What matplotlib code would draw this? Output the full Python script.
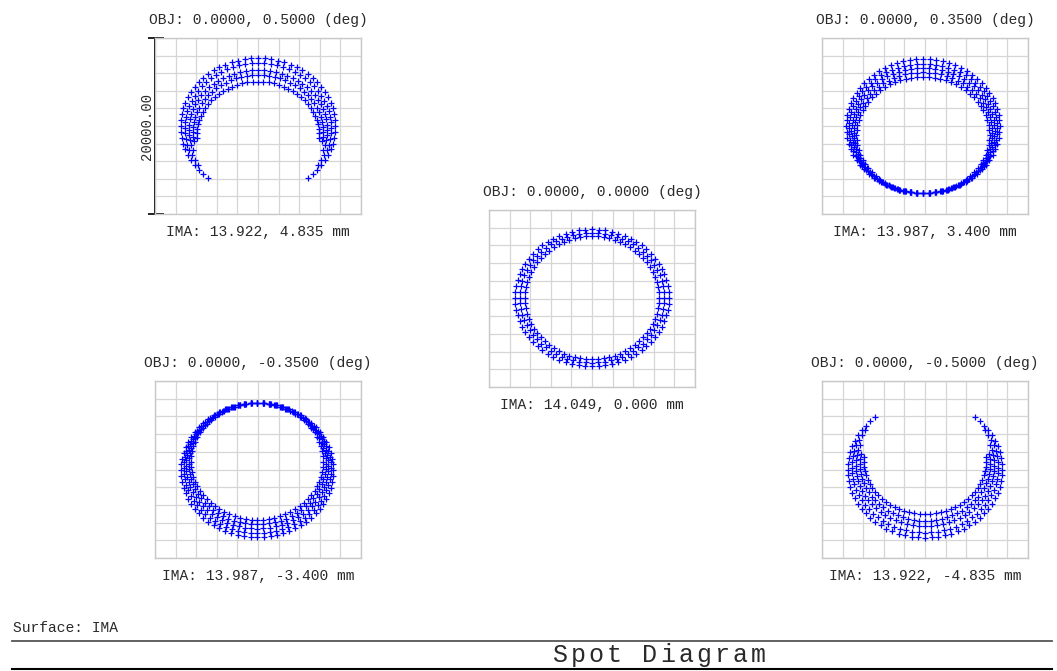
import numpy as np
import matplotlib
matplotlib.use("Agg")
import matplotlib.pyplot as plt
from matplotlib.lines import Line2D

W, H = 1057, 671
MONO = "Liberation Mono"
TXT = "#2a2a2a"
SPOT = "#0000ff"

# field angles (deg) and image heights (mm)
obj_labels = ["0.0000, 0.5000", "0.0000, 0.3500", "0.0000, 0.0000",
              "0.0000, -0.3500", "0.0000, -0.5000"]
ima_labels = ["13.922, 4.835", "13.987, 3.400", "14.049, 0.000",
              "13.987, -3.400", "13.922, -4.835"]

# pupil zones traced per field: semi-axes, zone centre, kept arc (deg)
# 0.5 deg
f1_a = [7500, 7100, 6700, 6300, 5900]
f1_b = [7700, 7350, 6800, 6440, 5890]
f1_cx = [0, 0, 0, 0, 0]
f1_cy = [0, -210, -425, -640, -850]
f1_span = [141, 129, 112, 102, 95]
# 0.35 deg
f2_a = [7450, 7200, 6950, 6700, 6470]
f2_b = [7625, 7370, 7120, 6870, 6630]
f2_cx = [-190, -190, -190, -190, -190]
f2_cy = [-25, -280, -530, -780, -1020]
f2_span = [180, 180, 180, 180, 180]
# 0 deg
f3_a = [7480, 6990, 6500]
f3_b = [7720, 7340, 6960]
f3_cx = [0, 0, 0]
f3_cy = [90, 90, 90]
f3_span = [180, 180, 180]
# -0.35 deg
f4_a = [7400, 7150, 6900, 6650, 6420]
f4_b = [7590, 7340, 7090, 6840, 6600]
f4_cx = [-70, -70, -70, -70, -70]
f4_cy = [-90, 160, 410, 660, 900]
f4_span = [180, 180, 180, 180, 180]
# -0.5 deg
f5_a = [7500, 7100, 6700, 6300, 5900]
f5_b = [7700, 7350, 6800, 6440, 5890]
f5_cx = [0, 0, 0, 0, 0]
f5_cy = [0, 210, 425, 640, 850]
f5_span = [141, 129, 112, 102, 95]

rays_per_zone = 72

fields = [
    (f1_a, f1_b, f1_cx, f1_cy, f1_span, 90),
    (f2_a, f2_b, f2_cx, f2_cy, f2_span, 90),
    (f3_a, f3_b, f3_cx, f3_cy, f3_span, 90),
    (f4_a, f4_b, f4_cx, f4_cy, f4_span, -90),
    (f5_a, f5_b, f5_cx, f5_cy, f5_span, -90),
]

# box pixel rects: left, top, width, height
boxes = [(155, 38, 206, 176), (822, 38, 206, 176), (489, 210, 206, 177),
         (155, 381, 206, 177), (822, 381, 206, 177)]


def zone_points(a, b, cx, cy, span, keep_dir, n):
    t = np.arange(n) * 2 * np.pi / n
    d = np.degrees(np.angle(np.exp(1j * (t - np.radians(keep_dir)))))
    t = t[np.abs(d) <= span + 1e-6]
    return cx + a * np.cos(t), cy + b * np.sin(t)


fig = plt.figure(figsize=(W / 100, H / 100), dpi=100)
fig.patch.set_facecolor("white")

ticks = np.linspace(-10000, 10000, 11)
for i, (x0, y0, w, h) in enumerate(boxes):
    ax = fig.add_axes([x0 / W, 1 - (y0 + h) / H, w / W, h / H])
    ax.set_xlim(-10000, 10000)
    ax.set_ylim(-10000, 10000)
    ax.set_xticks(ticks)
    ax.set_yticks(ticks)
    ax.tick_params(length=0, labelbottom=False, labelleft=False)
    ax.grid(True, color="#d6d6d6", lw=0.9)
    ax.set_axisbelow(True)
    for s in ax.spines.values():
        s.set_color("#c8c8c8")
        s.set_linewidth(1.0)

    a, b, cx, cy, span, keep = fields[i]
    for k in range(len(a)):
        xs, ys = zone_points(a[k], b[k], cx[k], cy[k], span[k], keep, rays_per_zone)
        ax.plot(xs, ys, ls="none", marker="+", ms=4.0, mew=0.9, color=SPOT)

    ax.text(0.5, 1 + 18 / h, f"OBJ: {obj_labels[i]} (deg)", transform=ax.transAxes,
            ha="center", va="center", family=MONO, fontsize=10.5, color=TXT)
    ax.text(0.5, -18 / h, f"IMA: {ima_labels[i]} mm", transform=ax.transAxes,
            ha="center", va="center", family=MONO, fontsize=10.5, color=TXT)

    if i == 0:
        # scale bar spanning the full box height
        tr = ax.transAxes
        ax.add_line(Line2D([0, 0], [0, 1], transform=tr, color="black", lw=1.4, clip_on=False))
        for yy in (0, 1):
            ax.add_line(Line2D([-6 / w, 8 / w], [yy, yy], transform=tr, color="#222222",
                               lw=1.4, clip_on=False))
        ax.text(-8 / w, 0.5, "20000.00", transform=tr, rotation=90, ha="center",
                va="center", family=MONO, fontsize=10, color=TXT)

fig.text(13 / W, 1 - 628 / H, "Surface: IMA", ha="left", va="center",
         family=MONO, fontsize=10.5, color=TXT)
fig.add_artist(Line2D([12 / W, 1052 / W], [1 - 641 / H] * 2, color="#555555", lw=1.3))
fig.add_artist(Line2D([12 / W, 1052 / W], [1 - 669 / H] * 2, color="black", lw=1.5))

# wide-pitch title, one glyph per cell
title = "Spot Diagram"
pitch = 18
for j, ch in enumerate(title):
    fig.text((551 + pitch * (j + 0.5)) / W, 1 - 662 / H, ch, ha="center",
             va="baseline", family=MONO, fontsize=18, color=TXT)

fig.savefig("out.png", dpi=100, facecolor="white")
